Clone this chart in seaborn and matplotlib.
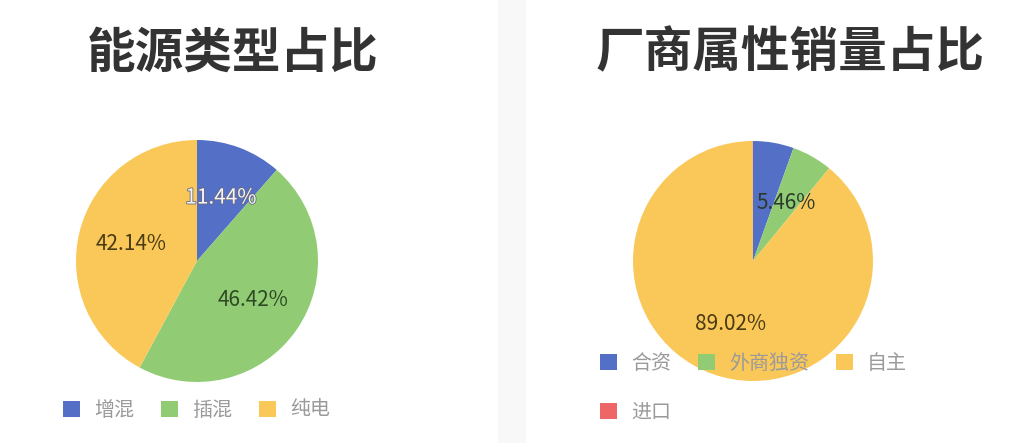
import matplotlib
matplotlib.use('Agg')
import matplotlib.pyplot as plt
import matplotlib.patheffects as pe
from matplotlib.patches import Rectangle, Patch
import seaborn as sns

# Data

energy_title = '能源类型占比'
energy_types = ['增混', '插混', '纯电']
energy_share = [11.44, 46.42, 42.14]

maker_title = '厂商属性销量占比'
maker_types = ['合资', '外商独资', '自主', '进口']
maker_share = [5.48, 5.46, 89.02, 0.04]
maker_shown = [False, True, True, False]  # overlapping labels are hidden in the original

sns.set_theme(style='white')
plt.rcParams['font.family'] = ['Noto Sans CJK SC', 'DejaVu Sans']

palette = sns.color_palette(['#5470c6', '#91cc75', '#fac858', '#ee6666'])

W, H = 1031, 443
fig = plt.figure(figsize=(W / 100, H / 100), dpi=100)
fig.patch.set_facecolor('white')

# gap between the two cards
fig.add_artist(Rectangle((498 / W, 0), 28 / W, 1, transform=fig.transFigure,
                         facecolor='#f8f8f8', edgecolor='none', zorder=0))


def pie_axes(cx, cy, r):
    ax = fig.add_axes([(cx - r) / W, (H - cy - r) / H, 2 * r / W, 2 * r / H])
    ax.set_xlim(-1, 1)
    ax.set_ylim(-1, 1)
    ax.axis('off')
    return ax


def draw_pie(ax, shares, colors, label_colors, shown):
    wedges, _, autotexts = ax.pie(shares, colors=colors, startangle=90, counterclock=False,
                                  radius=1, autopct=lambda p: f'{p:.2f}%', pctdistance=0.56,
                                  wedgeprops=dict(linewidth=0), textprops=dict(fontsize=15))
    ax.set_xlim(-1, 1)
    ax.set_ylim(-1, 1)
    for t, c, s in zip(autotexts, label_colors, shown):
        t.set_color(c)
        t.set_visible(s)
    return wedges


# Left pie
ax1 = pie_axes(197, 261, 121)
draw_pie(ax1, energy_share, palette[:3], ['#f4f4ff', '#2e4a24', '#4a3b14'], [True] * 3)
ax1.texts[1].set_path_effects([pe.withStroke(linewidth=1.2, foreground='#6a6a7a')])
fig.text(233 / W, 1 - 53 / H, energy_title, ha='center', va='center',
         fontsize=35, fontweight='bold', color='#333333')

# Right pie
ax2 = pie_axes(753, 261, 120)
draw_pie(ax2, maker_share, palette, ['#f4f4ff', '#2b3a2c', '#4a3b14', '#ffffff'], maker_shown)
fig.text(790 / W, 1 - 53 / H, maker_title, ha='center', va='center',
         fontsize=35, fontweight='bold', color='#333333')

# Legends

leg_kw = dict(frameon=False, fontsize=14.4, handlelength=0.85, handleheight=0.85,
              handletextpad=0.7, columnspacing=1.35, borderpad=0, borderaxespad=0,
              labelcolor='#9a9a9a')

h1 = [Patch(facecolor=c, edgecolor='none') for c in palette[:3]]
fig.legend(h1, energy_types, loc='center left', bbox_to_anchor=(63 / W, 1 - 410 / H),
           ncol=3, **leg_kw)

h2 = [Patch(facecolor=c, edgecolor='none') for c in palette]
order = [0, 3, 1, 2]
fig.legend([h2[i] for i in order], [maker_types[i] for i in order], loc='upper left',
           bbox_to_anchor=(600 / W, 1 - 353 / H), ncol=3, labelspacing=1.4, **leg_kw)

fig.savefig('out.png', dpi=100, facecolor='white')
